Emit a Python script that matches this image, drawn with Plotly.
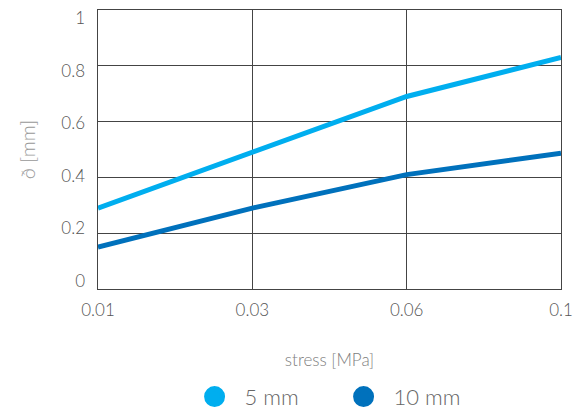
import plotly.graph_objects as go

stress = ["0.01", "0.03", "0.06", "0.1"]
d_5mm = [0.29, 0.49, 0.69, 0.83]
d_10mm = [0.15, 0.29, 0.41, 0.487]
y_ticks = [0, 0.2, 0.4, 0.6, 0.8, 1]
y_ticktext = ["0", "0.2", "0.4", "0.6", "0.8", "1"]

c5 = "#00AEEF"
c10 = "#0071BC"
FONT = "Lato"

fig = go.Figure()
fig.add_trace(go.Scatter(x=stress, y=d_5mm, mode="lines", line=dict(color=c5, width=5),
                         showlegend=False, cliponaxis=False))
fig.add_trace(go.Scatter(x=stress, y=d_10mm, mode="lines", line=dict(color=c10, width=5),
                         showlegend=False, cliponaxis=False))
fig.add_trace(go.Scatter(x=[None], y=[None], mode="markers", name="5 mm", yaxis="y2",
                         marker=dict(color=c5, size=16, line=dict(color=c5, width=6))))
fig.add_trace(go.Scatter(x=[None], y=[None], mode="markers", name="10 mm", yaxis="y2",
                         marker=dict(color=c10, size=16, line=dict(color=c10, width=6))))

fig.update_layout(
    width=574, height=405,
    margin=dict(l=90, r=21, t=2, b=124, autoexpand=False),
    paper_bgcolor="white", plot_bgcolor="white",
    font=dict(family=FONT, color="#555555", weight=300),
    showlegend=True,
    legend=dict(orientation="h", x=0.187, xanchor="left", y=-0.311, yanchor="top",
                font=dict(size=22, color="#666666", weight=300), entrywidth=84,
                entrywidthmode="pixels", itemwidth=50),
    xaxis=dict(type="category", range=[0, 3], showgrid=True, gridcolor="#444444", gridwidth=1,
               showline=True, linecolor="#444444", mirror=True, ticks="", automargin=False,
               tickfont=dict(size=17, color="#555555", weight=300), ticklabelstandoff=6,
               title=dict(text="stress [MPa]", font=dict(size=17, color="#808080", weight=300), standoff=34)),
    yaxis=dict(range=[0, 1], showgrid=True, gridcolor="#444444", gridwidth=1,
               showline=True, linecolor="#444444", mirror=True, zeroline=False, ticks="", automargin=False,
               showticklabels=False, tickvals=y_ticks,
               title=dict(text="ð [mm]", font=dict(size=20, color="#999999", weight=300), standoff=56)),
    yaxis2=dict(overlaying="y", side="left", range=[-0.0304, 1.0304], showgrid=False, showline=False,
                zeroline=False, ticks="", automargin=False, ticklabeloverflow="allow",
                tickvals=y_ticks, ticktext=y_ticktext, ticklabelstandoff=12,
                tickfont=dict(size=17, color="#555555", weight=300)),
)

fig.write_html("out.html")
